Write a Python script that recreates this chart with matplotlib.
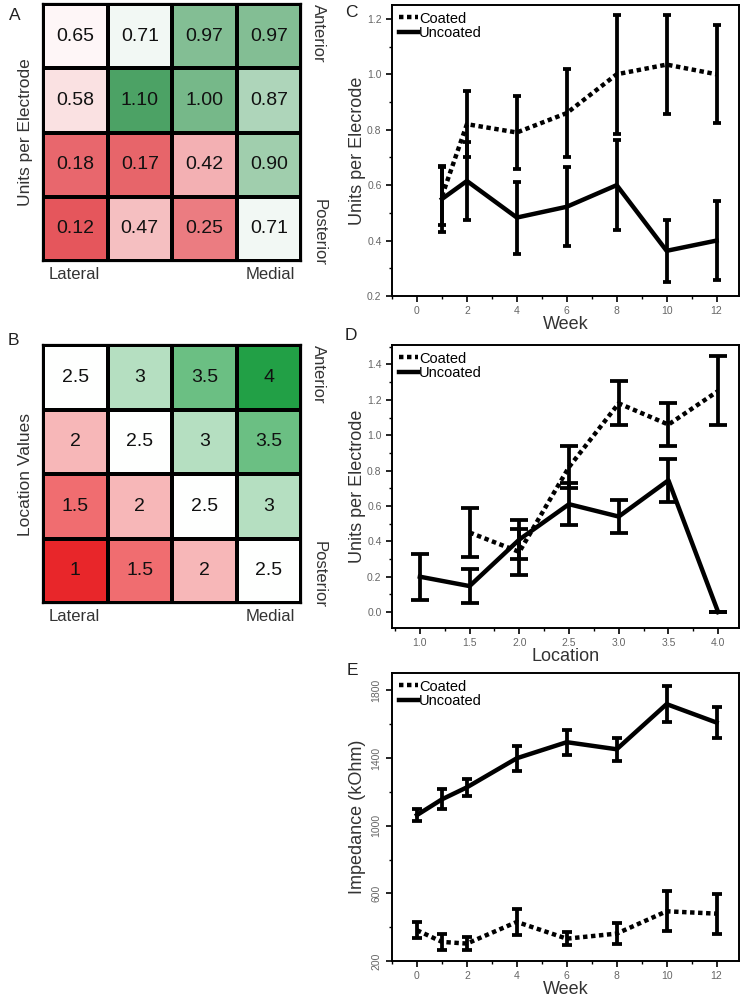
"""
Electrode unit yield heatmaps (A, B) and coated vs uncoated trends (C, D, E).
"""

import matplotlib

matplotlib.use("Agg")
import matplotlib.pyplot as plt
import numpy as np
from matplotlib.colors import LinearSegmentedColormap, TwoSlopeNorm
from matplotlib.ticker import MultipleLocator

plt.rcParams["font.family"] = ["Liberation Sans", "DejaVu Sans"]

# ---- data -------------------------------------------------------------
units_grid = [
    [0.65, 0.71, 0.97, 0.97],
    [0.58, 1.10, 1.00, 0.87],
    [0.18, 0.17, 0.42, 0.90],
    [0.12, 0.47, 0.25, 0.71],
]
location_grid = [
    [2.5, 3, 3.5, 4],
    [2, 2.5, 3, 3.5],
    [1.5, 2, 2.5, 3],
    [1, 1.5, 2, 2.5],
]

week_c = [1, 2, 4, 6, 8, 10, 12]
coated_c = [0.56, 0.82, 0.79, 0.86, 1.00, 1.035, 1.00]
coated_c_err = [0.105, 0.12, 0.13, 0.16, 0.215, 0.18, 0.177]
uncoated_c = [0.55, 0.615, 0.483, 0.522, 0.60, 0.363, 0.40]
uncoated_c_err = [0.12, 0.14, 0.13, 0.142, 0.163, 0.113, 0.141]

loc_uncoated = [1.0, 1.5, 2.0, 2.5, 3.0, 3.5, 4.0]
uncoated_d = [0.20, 0.147, 0.41, 0.61, 0.54, 0.745, 0.0]
uncoated_d_err = [0.13, 0.095, 0.11, 0.12, 0.095, 0.12, 0.0]
loc_coated = [1.5, 2.0, 2.5, 3.0, 3.5, 4.0]
coated_d = [0.45, 0.34, 0.82, 1.18, 1.06, 1.25]
coated_d_err = [0.137, 0.13, 0.12, 0.125, 0.12, 0.195]

week_e = [0, 1, 2, 4, 6, 8, 10, 12]
coated_e = [382, 313, 303, 431, 332, 362, 494, 480]
coated_e_err = [46, 45, 37, 76, 37, 63, 118, 118]
uncoated_e = [1063, 1156, 1227, 1399, 1494, 1452, 1719, 1610]
uncoated_e_err = [35, 60, 51, 73, 73, 67, 108, 93]
impedance_ticks = [200, 600, 1000, 1400, 1800]

DOT = (0, (1, 0.8))
TICK_COLOR = "#666666"


def draw_heatmap(ax, values, cmap, norm, fmt, ylabel):
    arr = np.array(values, dtype=float)
    ax.pcolormesh(arr, cmap=cmap, norm=norm, edgecolors="black", linewidth=1.6)
    ax.set_xlim(0, arr.shape[1])
    ax.set_ylim(arr.shape[0], 0)
    for i in range(arr.shape[0]):
        for j in range(arr.shape[1]):
            ax.text(j + 0.5, i + 0.5, fmt(arr[i, j]), ha="center", va="center",
                    fontsize=14, color="#111111")
    ax.set_xticks([])
    ax.set_yticks([])
    for sp in ax.spines.values():
        sp.set_linewidth(1.6)
    ax.set_ylabel(ylabel, fontsize=12.5, labelpad=7, color="#333333")
    ax.text(0.023, -0.025, "Lateral", transform=ax.transAxes, ha="left", va="top",
            fontsize=12, color="#333333")
    ax.text(0.977, -0.025, "Medial", transform=ax.transAxes, ha="right", va="top",
            fontsize=12, color="#333333")
    ax.text(1.04, 1.0, "Anterior", transform=ax.transAxes, ha="left", va="top",
            rotation=-90, fontsize=12, color="#333333")
    ax.text(1.04, -0.02, "Posterior", transform=ax.transAxes, ha="left", va="bottom",
            rotation=-90, fontsize=12, color="#333333")


def style_line_axes(ax):
    for sp in ax.spines.values():
        sp.set_linewidth(1.4)
    ax.tick_params(which="major", direction="out", length=4, width=1.2,
                   labelsize=7.5, labelcolor=TICK_COLOR, top=False, right=False)
    ax.tick_params(which="minor", direction="out", length=2.5, width=1.0,
                   top=False, right=False)


def draw_pair(ax, xc, yc, ec, xu, yu, eu, capsize, lw=3.2):
    ax.errorbar(xc, yc, yerr=ec, fmt="none", ecolor="black", elinewidth=lw * 0.85,
                capsize=capsize, capthick=lw * 0.85)
    ax.errorbar(xu, yu, yerr=eu, fmt="none", ecolor="black", elinewidth=lw * 0.85,
                capsize=capsize, capthick=lw * 0.85)
    ax.plot(xc, yc, color="black", linewidth=lw, linestyle=DOT, label="Coated")
    ax.plot(xu, yu, color="black", linewidth=lw, label="Uncoated")
    ax.legend(loc="upper left", frameon=False, fontsize=10.5, handlelength=1.3,
              handletextpad=0.1, labelspacing=0.05, borderpad=0.15,
              borderaxespad=0.3)


def main():
    fig = plt.figure(figsize=(7.47, 10), dpi=100)

    # A: units per electrode
    ax_a = fig.add_axes([0.0576, 0.739, 0.3454, 0.257])
    cmap_a = LinearSegmentedColormap.from_list("rwg_a", ["#e5565c", "#ffffff", "#4ca265"])
    norm_a = TwoSlopeNorm(vmin=0.12, vcenter=0.68, vmax=1.10)
    draw_heatmap(ax_a, units_grid, cmap_a, norm_a, lambda v: f"{v:.2f}", "Units per Electrode")

    # B: location values
    ax_b = fig.add_axes([0.0576, 0.397, 0.3454, 0.258])
    cmap_b = LinearSegmentedColormap.from_list("rwg_b", ["#e8262a", "#ffffff", "#22a046"])
    norm_b = TwoSlopeNorm(vmin=1, vcenter=2.5, vmax=4)
    draw_heatmap(ax_b, location_grid, cmap_b, norm_b, lambda v: f"{v:g}", "Location Values")

    # C: units per electrode over weeks
    ax_c = fig.add_axes([0.5248, 0.704, 0.4645, 0.291])
    draw_pair(ax_c, week_c, coated_c, coated_c_err, week_c, uncoated_c, uncoated_c_err,
              capsize=3)
    ax_c.set_xlim(-1, 12.9)
    ax_c.set_ylim(0.2, 1.25)
    ax_c.xaxis.set_major_locator(MultipleLocator(2))
    ax_c.xaxis.set_minor_locator(MultipleLocator(1))
    ax_c.yaxis.set_major_locator(MultipleLocator(0.2))
    ax_c.yaxis.set_minor_locator(MultipleLocator(0.1))
    ax_c.yaxis.set_major_formatter(lambda v, p: f"{v:.1f}")
    style_line_axes(ax_c)
    ax_c.set_ylabel("Units per Elecrode", fontsize=13, labelpad=1, color="#333333")
    ax_c.set_xlabel("Week", fontsize=13, labelpad=0, color="#333333")

    # D: units per electrode by location
    ax_d = fig.add_axes([0.5248, 0.372, 0.4645, 0.283])
    draw_pair(ax_d, loc_coated, coated_d, coated_d_err, loc_uncoated, uncoated_d,
              uncoated_d_err, capsize=6.5)
    ax_d.set_xlim(0.72, 4.21)
    ax_d.set_ylim(-0.09, 1.51)
    ax_d.xaxis.set_major_locator(MultipleLocator(0.5))
    ax_d.xaxis.set_minor_locator(MultipleLocator(0.25))
    ax_d.yaxis.set_major_locator(MultipleLocator(0.2))
    ax_d.yaxis.set_minor_locator(MultipleLocator(0.1))
    ax_d.xaxis.set_major_formatter(lambda v, p: f"{v:.1f}")
    ax_d.yaxis.set_major_formatter(lambda v, p: f"{v:.1f}")
    style_line_axes(ax_d)
    ax_d.set_ylabel("Units per Electrode", fontsize=13, labelpad=1, color="#333333")
    ax_d.set_xlabel("Location", fontsize=13, labelpad=0, color="#333333")

    # E: impedance over weeks
    ax_e = fig.add_axes([0.5248, 0.039, 0.4645, 0.288])
    draw_pair(ax_e, week_e, coated_e, coated_e_err, week_e, uncoated_e, uncoated_e_err,
              capsize=3.3)
    ax_e.set_xlim(-1, 12.9)
    ax_e.set_ylim(200, 1903)
    ax_e.xaxis.set_major_locator(MultipleLocator(2))
    ax_e.xaxis.set_minor_locator(MultipleLocator(1))
    ax_e.set_yticks(impedance_ticks)
    ax_e.yaxis.set_minor_locator(MultipleLocator(200))
    style_line_axes(ax_e)
    for lbl in ax_e.get_yticklabels():
        lbl.set_rotation(90)
        lbl.set_va("center")
    ax_e.set_ylabel("Impedance (kOhm)", fontsize=13, labelpad=4, color="#333333")
    ax_e.set_xlabel("Week", fontsize=13, labelpad=0, color="#333333")

    for letter, x, y in [("A", 0.012, 0.992), ("B", 0.010, 0.667), ("C", 0.462, 0.995),
                         ("D", 0.462, 0.672), ("E", 0.464, 0.337)]:
        fig.text(x, y, letter, ha="left", va="top", fontsize=12.5, color="#222222")

    fig.savefig("out.png", dpi=100)
    plt.close(fig)


if __name__ == "__main__":
    main()
